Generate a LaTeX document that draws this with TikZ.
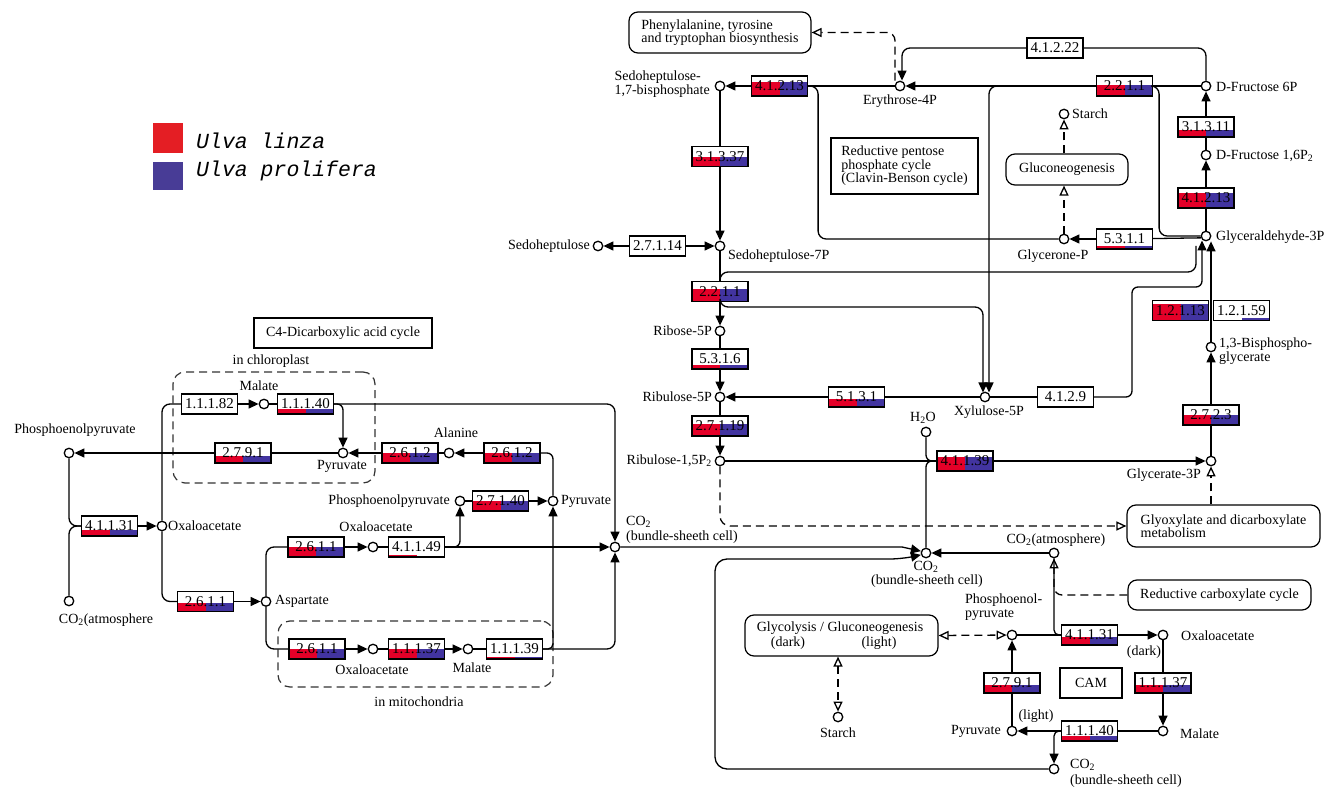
\documentclass[tikz,border=0pt]{standalone}
\usepackage{fontspec}
\setmainfont{Liberation Serif}
\newfontfamily\legfont{Liberation Mono}
\usetikzlibrary{arrows.meta,calc}
\definecolor{ured}{RGB}{228,0,40}
\definecolor{ublue}{RGB}{66,52,160}
\definecolor{lred}{RGB}{228,30,36}
\definecolor{lblue}{RGB}{72,60,150}
\newcommand\enz[6]{%
  \fill[ured] (#2-28,#3+10) rectangle (#2,#3+10-#5);
  \fill[ublue] (#2,#3+10) rectangle (#2+28,#3+10-#6);
  \node[enz] (#1) at (#2,#3) {#4};}
\begin{document}
\begin{tikzpicture}[x=1pt,y=-1pt,
  every node/.style={inner sep=0pt},
  cpd/.style={circle,draw,fill=white,minimum size=9.5pt,inner sep=0pt,line width=1.3pt},
  enz/.style={draw,minimum width=56pt,minimum height=20pt,inner sep=0pt,line width=1.2pt,font=\fontsize{15}{15}\selectfont},
  lbl/.style={font=\fontsize{14}{13.5}\selectfont,align=left},
  mapbox/.style={draw,rounded corners=9pt,line width=1.2pt,align=left,font=\fontsize{14}{13.5}\selectfont},
  sqbox/.style={draw,line width=1.2pt,align=left,font=\fontsize{14}{13.5}\selectfont},
  comp/.style={draw=black!80,dash pattern=on 8pt off 5pt,rounded corners=12pt,line width=1.2pt},
  conn/.style={line width=1.3pt},
  arr/.style={arrows=-{Triangle[length=10pt,width=9pt]}},
  oarr/.style={arrows=-{Triangle[length=10pt,width=9pt,fill=white]}},
  darr/.style={arrows={Triangle[length=10pt,width=9pt,fill=white]}-{Triangle[length=10pt,width=9pt,fill=white]}},
  dsh/.style={dash pattern=on 8pt off 5pt},
  legt/.style={anchor=base west,font=\legfont\itshape\fontsize{21.5}{21.5}\selectfont}
]
\useasboundingbox (0,0) rectangle (1334,791);

% ---------- legend
\node[fill=lred,minimum width=30pt,minimum height=30pt] (legR) at (168,138) {};
\node[fill=lblue,minimum width=30pt,minimum height=28pt] (legB) at (168,176) {};
\node[legt] (legRt) at (196,149) {Ulva linza};
\node[legt] (legBt) at (196,177) {Ulva prolifera};

% ---------- compartments and map boxes
\node[comp,minimum width=202pt,minimum height=111pt] (chloro) at (274,427.5) {};
\node[comp,minimum width=275pt,minimum height=66pt] (mito) at (415.5,654) {};
\node[sqbox,minimum width=178pt,minimum height=30pt,align=center] (c4box) at (343,333) {C4-Dicarboxylic acid cycle};
\node[mapbox,minimum width=182pt,minimum height=41pt] (phebox) at (720,32.5) {Phenylalanine, tyrosine\\and tryptophan biosynthesis};
\node[sqbox,minimum width=147pt,minimum height=56pt] (rppbox) at (904.5,166) {Reductive pentose\\phosphate cycle\\(Clavin-Benson cycle)};
\node[mapbox,minimum width=122pt,minimum height=31pt] (gluco) at (1067,169.5) {Gluconeogenesis};
\node[mapbox,minimum width=193pt,minimum height=42pt] (glyox) at (1223.5,526) {Glyoxylate and dicarboxylate\\metabolism};
\node[mapbox,minimum width=183pt,minimum height=30pt] (rcc) at (1219.5,595) {Reductive carboxylate cycle};
\node[mapbox,minimum width=193pt,minimum height=41pt] (glyco) at (841.5,635.5) {};
\node[sqbox,minimum width=62pt,minimum height=30pt] (cam) at (1091,683) {CAM};

% ---------- enzymes
\enz{e11182}{209.5}{404}{1.1.1.82}{0}{0}
\enz{e11140c}{305.5}{404}{1.1.1.40}{5}{5}
\enz{e2791L}{243}{453}{2.7.9.1}{7}{7}
\enz{e41131L}{109.5}{526}{4.1.1.31}{6}{6}
\enz{e2611a}{205.5}{601.5}{2.6.1.1}{9}{9}
\enz{e2612a}{410}{453}{2.6.1.2}{10}{10}
\enz{e2612b}{512}{453}{2.6.1.2}{10}{10}
\enz{e27140}{500.5}{501}{2.7.1.40}{10}{10}
\enz{e2611b}{316}{547}{2.6.1.1}{10}{10}
\enz{e41149}{416.5}{547}{4.1.1.49}{2}{1}
\enz{e2611c}{317}{649}{2.6.1.1}{10}{10}
\enz{e11137M}{416.5}{649}{1.1.1.37}{10}{10}
\enz{e11139M}{514.5}{649}{1.1.1.39}{2}{2}
\enz{e41213T}{779.5}{86}{4.1.2.13}{14}{14}
\enz{e2211T}{1124.5}{86}{2.2.1.1}{11}{11}
\enz{e41222}{1055}{48}{4.1.2.22}{0}{0}
\enz{e31311}{1206}{127}{3.1.3.11}{7}{7}
\enz{e41213R}{1206}{198}{4.1.2.13}{15}{15}
\enz{e5311}{1124.5}{239}{5.3.1.1}{3}{3}
\enz{e31337}{720}{156.5}{3.1.3.37}{9}{9}
\enz{e27114}{657.5}{246}{2.7.1.14}{0}{0}
\enz{e2211M}{720}{291.5}{2.2.1.1}{12}{12}
\enz{e5316}{720}{359}{5.3.1.6}{4}{4}
\enz{e5131}{856.5}{397}{5.1.3.1}{8}{8}
\enz{e27119}{720}{426}{2.7.1.19}{12}{12}
\enz{e4129}{1065.5}{397}{4.1.2.9}{0}{0}
\enz{e41139}{965}{461}{4.1.1.39}{14}{14}
\enz{e2723}{1211}{415}{2.7.2.3}{10}{10}
\enz{e12113}{1180.5}{310.5}{1.2.1.13}{16}{16}
\enz{e12159}{1241.5}{310.5}{1.2.1.59}{0}{2}
\enz{e41131R}{1089.5}{635}{4.1.1.31}{8}{8}
\enz{e11137R}{1163}{683}{1.1.1.37}{8}{8}
\enz{e11140R}{1089.5}{731}{1.1.1.40}{5}{5}
\enz{e2791R}{1012}{683}{2.7.9.1}{8}{8}

% ---------- compounds
\node[cpd] (pepL) at (69,453) {};
\node[cpd] (co2atmL) at (69,601) {};
\node[cpd] (oaaL) at (162,526) {};
\node[cpd] (malC) at (264,404) {};
\node[cpd] (pyrC) at (343,453) {};
\node[cpd] (ala) at (449,453) {};
\node[cpd] (aspC) at (266,601.5) {};
\node[cpd] (oaa2) at (373,547) {};
\node[cpd] (pep2) at (460,501) {};
\node[cpd] (pyr2) at (553,501) {};
\node[cpd] (oaaM) at (373,649) {};
\node[cpd] (malM) at (468,649) {};
\node[cpd] (co2bs1) at (615,547) {};
\node[cpd] (co2bs2) at (926,553) {};
\node[cpd] (co2atmR) at (1054,553) {};
\node[cpd] (pepR) at (1012,635) {};
\node[cpd] (oaaR) at (1163,635) {};
\node[cpd] (malR) at (1163,731) {};
\node[cpd] (pyrR) at (1012,731) {};
\node[cpd] (co2bs3) at (1054,769) {};
\node[cpd] (starchB) at (838,717) {};
\node[cpd] (h2o) at (926,432) {};
\node[cpd] (glyc3p) at (1211,461) {};
\node[cpd] (bpg) at (1211,347) {};
\node[cpd] (gap) at (1206,236) {};
\node[cpd] (fbp) at (1206,155) {};
\node[cpd] (f6p) at (1206,86) {};
\node[cpd] (e4p) at (900,86) {};
\node[cpd] (s17bp) at (720,86) {};
\node[cpd] (s7p) at (720,246) {};
\node[cpd] (sedo) at (598,246) {};
\node[cpd] (r5p) at (720,331) {};
\node[cpd] (ru5p) at (720,397) {};
\node[cpd] (rubp) at (720,461) {};
\node[cpd] (xu5p) at (985,397) {};
\node[cpd] (glycerone) at (1064,239) {};
\node[cpd] (starchT) at (1064,114) {};

% ---------- connectors: C4 part
\draw[conn,rounded corners=8pt] (pepL) |- (e41131L.west);
\draw[conn,rounded corners=8pt] (co2atmL) |- (e41131L.west);
\draw[conn,arr] (e41131L) -- (oaaL);
\draw[conn,rounded corners=8pt] (oaaL) |- (e11182.west);
\draw[conn,arr] (e11182) -- (malC);
\draw[conn] (malC) -- (e11140c);
\draw[conn,arr,rounded corners=6pt] (e11140c.east) -| (pyrC);
\draw[conn,arr,rounded corners=8pt] (e11140c.east) -| (co2bs1);
\draw[conn] (pyrC) -- (e2791L);
\draw[conn,arr] (e2791L) -- (pepL);
\draw[conn,rounded corners=8pt] (oaaL) |- (e2611a.west);
\draw[conn,arr] (e2611a) -- (aspC);
\draw[conn,rounded corners=8pt] (aspC) |- (e2611b.west);
\draw[conn,rounded corners=8pt] (aspC) |- (e2611c.west);
\draw[conn,arr] (e2611b) -- (oaa2);
\draw[conn] (oaa2) -- (e41149);
\draw[conn,arr] (e41149) -- (co2bs1);
\draw[conn,arr,rounded corners=6pt] (e41149.east) -| (pep2);
\draw[conn] (pep2) -- (e27140);
\draw[conn,arr] (e27140) -- (pyr2);
\draw[conn,rounded corners=6pt] (pyr2) |- (e2612b.east);
\draw[conn,arr] (e2612b) -- (ala);
\draw[conn] (ala) -- (e2612a);
\draw[conn,arr] (e2612a) -- (pyrC);
\draw[conn,arr] (e2611c) -- (oaaM);
\draw[conn] (oaaM) -- (e11137M);
\draw[conn,arr] (e11137M) -- (malM);
\draw[conn] (malM) -- (e11139M);
\draw[conn,arr,rounded corners=5pt] (e11139M.east) -| (pyr2);
\draw[conn,arr,rounded corners=8pt] (e11139M.east) -| (co2bs1);
\draw[conn,arr] (co2bs1) -- (902,547) -- (co2bs2.160);
\draw[conn,arr,rounded corners=12pt] (co2bs3) -- (715,769) -- (715,559) -- (902,559) -- (co2bs2.200);
\draw[conn,arr] (co2atmR) -- (co2bs2);

% ---------- Calvin cycle
\draw[conn,rounded corners=6pt] (co2bs2) |- (e41139.west);
\draw[conn,rounded corners=6pt] (h2o) |- (e41139.west);
\draw[conn] (rubp) -- (e41139);
\draw[conn,arr] (e41139) -- (glyc3p);
\draw[conn,dsh,oarr,rounded corners=10pt] (rubp) |- (glyox.west);
\draw[conn,dsh,oarr] (glyc3p |- glyox.north) -- (glyc3p);
\draw[conn] (glyc3p) -- (e2723);
\draw[conn,arr] (e2723) -- (bpg);
\draw[conn,arr] (bpg) -- (bpg |- gap.south);
\draw[conn] (xu5p) -- (e4129);
\draw[conn,arr,rounded corners=6pt] (e4129.east) -- (1132,397) -- (1132,287) -- (1202,287) -- (1202,240.5);
\draw[conn] (xu5p) -- (e5131);
\draw[conn,arr] (e5131) -- (ru5p);
\draw[conn,rounded corners=8pt] (720,281.5) -- (720,272) -- (1196,272) -- (1196,246);
\draw[conn,arr,rounded corners=8pt] (720,301.5) -- (720,307) -- (983,307) -- (983,392.5);
\draw[conn,arr,rounded corners=8pt] (1010,86) -- (989,86) -- (989,392.5);
\draw[conn] (s17bp) -- (e31337);
\draw[conn,arr] (e31337) -- (s7p);
\draw[conn] (s7p) -- (e2211M);
\draw[conn,arr] (e2211M) -- (r5p);
\draw[conn] (r5p) -- (e5316);
\draw[conn,arr] (e5316) -- (ru5p);
\draw[conn] (ru5p) -- (e27119);
\draw[conn,arr] (e27119) -- (rubp);
\draw[conn,arr] (e27114) -- (sedo);
\draw[conn,arr] (e27114) -- (s7p);
\draw[conn] (f6p) -- (e2211T);
\draw[conn,arr] (e2211T) -- (e4p);
\draw[conn] (e4p) -- (e41213T);
\draw[conn,arr] (e41213T) -- (s17bp);
\draw[conn,rounded corners=8pt] (e41213T.east) -- ++(10,0) |- (glycerone);
\draw[conn,arr] (e5311) -- (glycerone);
\draw[conn] (e5311) -- (gap.200);
\draw[conn,rounded corners=8pt] (e2211T.east) -- ++(6,0) |- (gap);
\draw[conn] (gap) -- (e41213R);
\draw[conn,arr] (e41213R) -- (fbp);
\draw[conn] (fbp) -- (e31311);
\draw[conn,arr] (e31311) -- (f6p);
\draw[conn,rounded corners=8pt] (f6p) |- (e41222.east);
\draw[conn,arr,rounded corners=8pt] (e41222.west) -| ($(e4p.north)+(2,0)$);
\draw[conn,dsh,oarr,rounded corners=8pt] ($(e4p.north)+(-5,0)$) |- (phebox.east);
\draw[conn,dsh,oarr] (glycerone) -- (glycerone |- gluco.south);
\draw[conn,dsh,oarr] (glycerone |- gluco.north) -- (starchT);

% ---------- CAM part
\draw[conn,dsh,oarr,rounded corners=8pt] (rcc.west) -| (co2atmR);
\draw[conn,rounded corners=5pt] (co2atmR) |- (e41131R.west);
\draw[conn] (pepR) -- (e41131R);
\draw[conn,arr] (e41131R) -- (oaaR);
\draw[conn] (oaaR) -- (e11137R);
\draw[conn,arr] (e11137R) -- (malR);
\draw[conn] (malR) -- (e11140R);
\draw[conn,arr] (e11140R) -- (pyrR);
\draw[conn,arr,rounded corners=5pt] (e11140R.west) -| (co2bs3);
\draw[conn] (pyrR) -- (e2791R);
\draw[conn,arr] (e2791R) -- (pepR);
\draw[conn,dsh,darr] (glyco.east) -- (pepR);
\draw[conn,dsh,darr] (starchB |- glyco.south) -- (starchB);

% ---------- labels
\node[lbl] (t1) at (75,430) {Phosphoenolpyruvate};
\node[lbl] (t2) at (106,620) {CO\textsubscript{2}(atmosphere};
\node[lbl,anchor=west] (t3) at (168,526) {Oxaloacetate};
\node[lbl] (t4) at (259,386) {Malate};
\node[lbl] (t5) at (271,361) {in chloroplast};
\node[lbl] (t6) at (342,466) {Pyruvate};
\node[lbl] (t7) at (456,433) {Alanine};
\node[lbl,anchor=east] (t8) at (450,501) {Phosphoenolpyruvate};
\node[lbl,anchor=west] (t9) at (561,501) {Pyruvate};
\node[lbl] (t10) at (376,527) {Oxaloacetate};
\node[lbl,anchor=west] (t11) at (275,601) {Aspartate};
\node[lbl] (t12) at (372,670) {Oxaloacetate};
\node[lbl] (t13) at (472,668) {Malate};
\node[lbl] (t14) at (419,702) {in mitochondria};
\node[lbl,anchor=west] (t15) at (626,522) {CO\textsubscript{2}};
\node[lbl,anchor=west] (t16) at (626,537) {(bundle-sheeth cell)};
\node[lbl,anchor=east] (t17) at (710,84) {Sedoheptulose-\\1,7-bisphosphate};
\node[lbl] (t18) at (900,101) {Erythrose-4P};
\node[lbl,anchor=east] (t19) at (590,246) {Sedoheptulose};
\node[lbl,anchor=west] (t20) at (728,256) {Sedoheptulose-7P};
\node[lbl,anchor=east] (t21) at (712,331) {Ribose-5P};
\node[lbl,anchor=east] (t22) at (712,397) {Ribulose-5P};
\node[lbl,anchor=east] (t23) at (712,461) {Ribulose-1,5P\textsubscript{2}};
\node[lbl] (t24) at (989,412) {Xylulose-5P};
\node[lbl] (t25) at (923,418) {H\textsubscript{2}O};
\node[lbl,anchor=west] (t26) at (1072,114) {Starch};
\node[lbl] (t27) at (1053,256) {Glycerone-P};
\node[lbl,anchor=west] (t28) at (1216,87) {D-Fructose 6P};
\node[lbl,anchor=west] (t29) at (1216,156) {D-Fructose 1,6P\textsubscript{2}};
\node[lbl,anchor=west] (t30) at (1216,237) {Glyceraldehyde-3P};
\node[lbl,anchor=west] (t31) at (1219,351) {1,3-Bisphospho-\\glycerate};
\node[lbl,anchor=east] (t32) at (1201,475) {Glycerate-3P};
\node[lbl] (t33) at (1056,540) {CO\textsubscript{2}(atmosphere)};
\node[lbl,anchor=west] (t34) at (965,607) {Phosphoenol-\\pyruvate};
\node[lbl,anchor=west] (t35) at (1181,636) {Oxaloacetate};
\node[lbl] (t36) at (1144,652) {(dark)};
\node[lbl] (t37) at (1036,716) {(light)};
\node[lbl,anchor=east] (t38) at (1001,731) {Pyruvate};
\node[lbl,anchor=west] (t39) at (1180,734) {Malate};
\node[lbl,anchor=west] (t40) at (1070,765) {CO\textsubscript{2}};
\node[lbl,anchor=west] (t41) at (1070,781) {(bundle-sheeth cell)};
\node[lbl] (t42) at (926,567) {CO\textsubscript{2}};
\node[lbl] (t43) at (927,581) {(bundle-sheeth cell)};
\node[lbl] (t44) at (840,628) {Glycolysis / Gluconeogenesis};
\node[lbl] (t45) at (788,643) {(dark)};
\node[lbl] (t46) at (879,643) {(light)};
\node[lbl] (t47) at (838,733) {Starch};
\end{tikzpicture}
\end{document}
